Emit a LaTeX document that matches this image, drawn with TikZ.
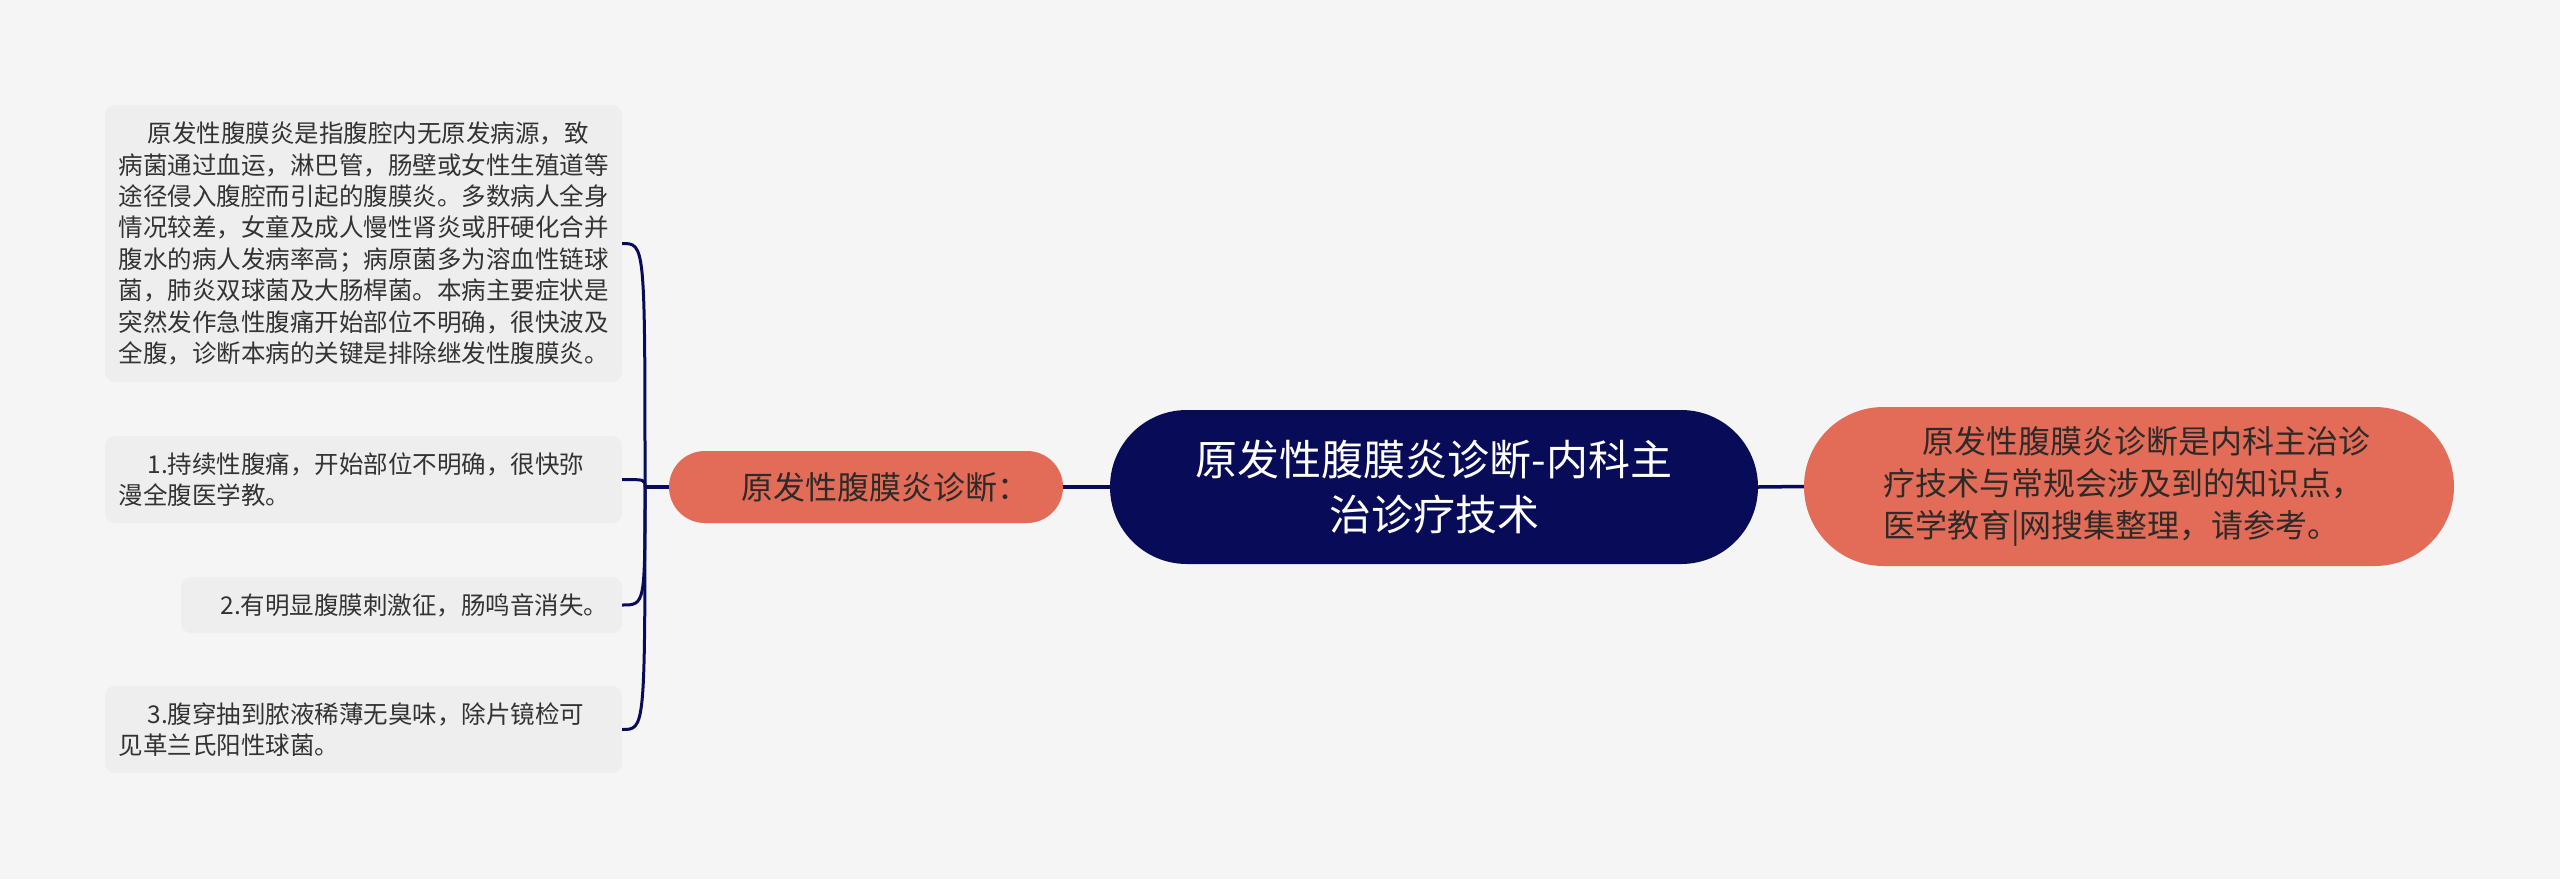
\documentclass[tikz,border=0pt]{standalone}
\usepackage{fontspec}
\setmainfont{Noto Sans CJK SC}
\definecolor{bgc}{HTML}{F5F5F5}
\definecolor{leafbg}{HTML}{EEEEEE}
\definecolor{navy}{HTML}{080C58}
\definecolor{salmon}{HTML}{E36C59}
\definecolor{leaftext}{HTML}{333333}
\definecolor{pilltext}{HTML}{2E2A28}
\begin{document}
\begin{tikzpicture}[x=1pt,y=-1pt,
  leaf/.style={fill=leafbg, rounded corners=10pt, inner xsep=13.5pt, inner ysep=0pt,
    align=left, font=\fontsize{24.5}{31.4}\selectfont, text=leaftext},
  pill/.style={inner xsep=0pt, inner ysep=0pt},
  conn/.style={draw=navy, line width=3.5pt},
  bracecurve/.style={draw=navy, line width=3pt}]
\path[fill=bgc] (0,0) rectangle (2560,879);
\useasboundingbox (0,0) rectangle (2560,879);

% central
\node[pill, fill=navy, text=white, minimum width=648pt, minimum height=154pt,
  rounded corners=76.9pt, align=center, font=\fontsize{42}{55}\selectfont]
  (c) at (1434,487) {原发性腹膜炎诊断-内科主\\治诊疗技术};

% right
\node[pill, fill=salmon, text=pilltext, minimum width=650pt, minimum height=159pt,
  rounded corners=79.4pt, text width=492pt, align=left, font=\fontsize{32}{42}\selectfont]
  (r) at (2129,486.5) {\hspace*{39pt}原发性腹膜炎诊断是内科主治诊\\疗技术与常规会涉及到的知识点，\\医学教育|网搜集整理，请参考。};

% left middle
\node[pill, fill=salmon, text=pilltext, minimum width=394pt, minimum height=72pt,
  rounded corners=35.9pt, font=\fontsize{32}{40}\selectfont]
  (lm) at (866,487) {\hspace{38pt}原发性腹膜炎诊断：};

% leaves
\node[leaf, text width=490pt, minimum height=277pt] (b1) at (363.5,243.5)
 {\hspace*{29pt}原发性腹膜炎是指腹腔内无原发病源，致\\
  病菌通过血运，淋巴管，肠壁或女性生殖道等\\
  途径侵入腹腔而引起的腹膜炎。多数病人全身\\
  情况较差，女童及成人慢性肾炎或肝硬化合并\\
  腹水的病人发病率高；病原菌多为溶血性链球\\
  菌，肺炎双球菌及大肠桿菌。本病主要症状是\\
  突然发作急性腹痛开始部位不明确，很快波及\\
  全腹，诊断本病的关键是排除继发性腹膜炎。};
\node[leaf, text width=490pt, minimum height=87pt] (b2) at (363.5,479.5)
 {\hspace*{29pt}1.持续性腹痛，开始部位不明确，很快弥\\漫全腹医学教。};
\node[leaf, text width=414pt, minimum height=56pt] (b3) at (401.5,605)
 {\hspace*{26pt}2.有明显腹膜刺激征，肠鸣音消失。};
\node[leaf, text width=490pt, minimum height=87pt] (b4) at (363.5,729.5)
 {\hspace*{29pt}3.腹穿抽到脓液稀薄无臭味，除片镜检可\\见革兰氏阳性球菌。};

% connectors
\draw[conn] (c.west) -- (lm.east);
\draw[conn] (c.east) -- (r.west);
\coordinate (trunk) at (645,487);
\draw[conn] (lm.west) -- (trunk);
\foreach \b in {b1,b2,b3,b4}
  \draw[bracecurve] (trunk) .. controls (trunk |- \b.east) and (trunk |- \b.east) .. (\b.east);
\end{tikzpicture}
\end{document}
